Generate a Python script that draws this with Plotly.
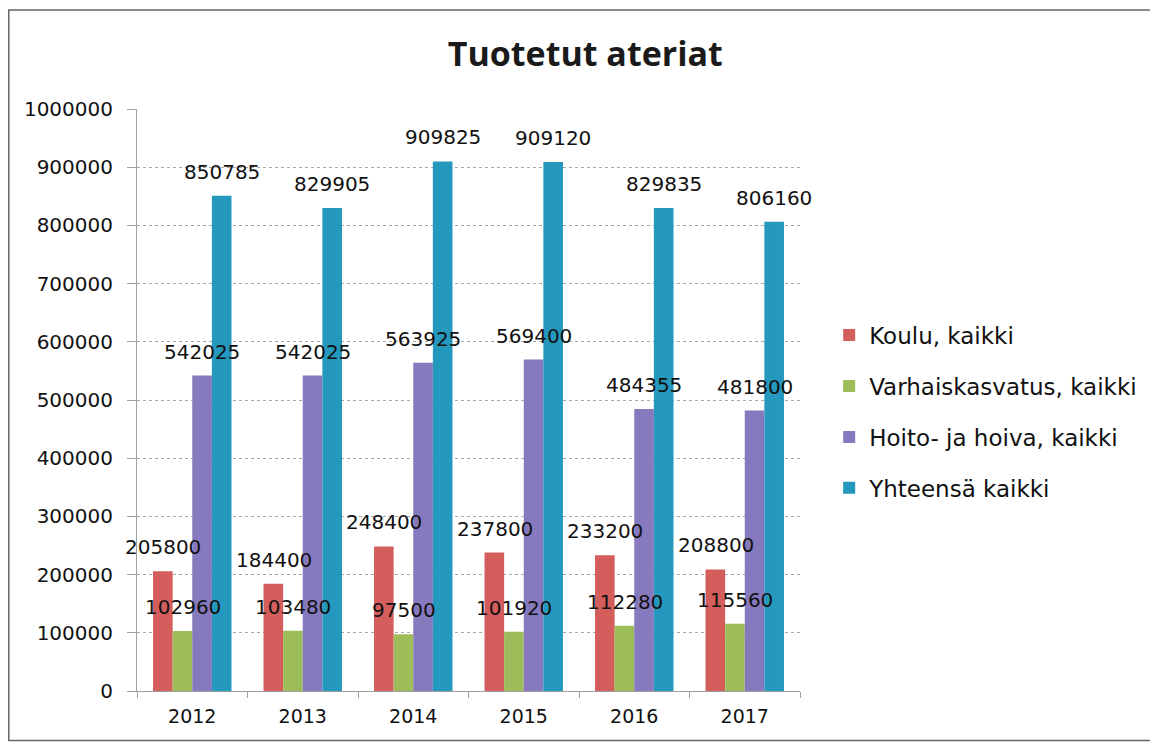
import plotly.graph_objects as go

years = ["2012", "2013", "2014", "2015", "2016", "2017"]
koulu = [205800, 184400, 248400, 237800, 233200, 208800]
varhaiskasvatus = [102960, 103480, 97500, 101920, 112280, 115560]
hoito = [542025, 542025, 563925, 569400, 484355, 481800]
yhteensa = [850785, 829905, 909825, 909120, 829835, 806160]

series = [
    ("Koulu, kaikki", koulu, "#D45E5C"),
    ("Varhaiskasvatus, kaikki", varhaiskasvatus, "#9CBD5A"),
    ("Hoito- ja hoiva, kaikki", hoito, "#8779BE"),
    ("Yhteensä kaikki", yhteensa, "#2598BE"),
]

BAR_PX = 19.5  # width of one bar in pixels, used to shift labels over each bar

fig = go.Figure()
for i, (name, vals, col) in enumerate(series):
    fig.add_trace(go.Bar(
        x=years, y=vals, name=name,
        marker=dict(color=col, line=dict(width=0)),
        legendgroup=str(i),
        hoverinfo="x+y+name",
    ))
    # value labels as annotations so they sit on top of every bar
    # (x is the category index on the category axis)
    for j, v in enumerate(vals):
        fig.add_annotation(
            x=j, y=v, text=str(v), showarrow=False,
            xshift=(i - 1.5) * BAR_PX, yshift=24, yanchor="middle",
            font=dict(family="DejaVu Sans", size=20, color="#111"),
        )

# page has an 8px body margin, so the figure is made 8px smaller to fit the window
fig.update_layout(
    width=1150, height=736,
    margin=dict(l=129, r=358, t=101, b=53, autoexpand=False),
    paper_bgcolor="white", plot_bgcolor="white",
    barmode="group", bargap=0.29, bargroupgap=0,
    title=dict(text="<b>Tuotetut ateriat</b>", x=0.502, xanchor="center",
               y=0.9375, yanchor="middle",
               font=dict(family="Open Sans", size=34, color="#1a1a1a")),
    font=dict(family="DejaVu Sans", size=19, color="#111"),
    legend=dict(x=1.044, y=0.48, xanchor="left", yanchor="middle",
                tracegroupgap=18, font=dict(size=23),
                bgcolor="rgba(0,0,0,0)"),
    showlegend=True,
)

fig.update_yaxes(
    range=[0, 1000000], dtick=100000, tickformat="d",
    showgrid=True, gridcolor="#a8a8a8", griddash="dot", gridwidth=1,
    showline=True, linecolor="#a0a0a0", ticks="outside", ticklen=9,
    ticklabelstandoff=10,
    tickcolor="#a0a0a0", tickfont=dict(size=20), zeroline=False,
)
fig.update_xaxes(
    type="category", tickangle=0, range=[-0.5, len(years) - 0.5],
    showline=True, linecolor="#a0a0a0", ticks="outside", ticklen=6,
    ticklabelstandoff=8,
    tickcolor="#a0a0a0", tickson="boundaries", tickfont=dict(size=19),
    showgrid=False,
)

# chart frame: top, left and bottom sides only (right side is cut off in the scan)
fig.add_shape(type="path", xref="paper", yref="paper",
              path="M 1.62 -0.085 L -0.1934 -0.085 L -0.1934 1.17 L 1.62 1.17",
              line=dict(color="#666", width=1.5), layer="below")

fig.write_html("out.html")
